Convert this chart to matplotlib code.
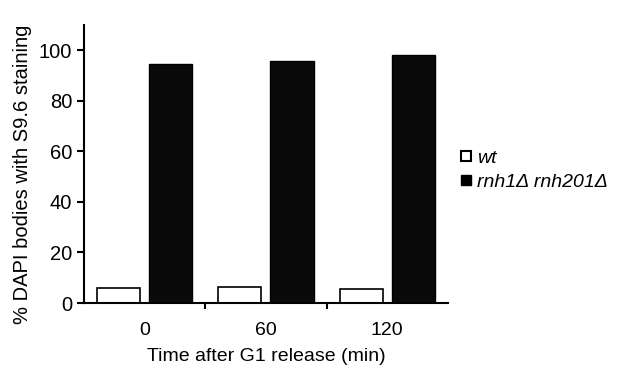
import numpy as np
import matplotlib
matplotlib.use("Agg")
import matplotlib.pyplot as plt
from matplotlib.lines import Line2D

plt.rcParams['font.family'] = ['Liberation Sans', 'DejaVu Sans']

# data
time_labels = ["0", "60", "120"]
wt_values = [5.8, 6.3, 5.5]
mutant_values = [94.5, 95.9, 98.3]
series_names = ["wt", "rnh1\u0394 rnh201\u0394"]

fig = plt.figure(figsize=(6.17, 3.87), dpi=100)
ax = fig.add_axes([0.136, 0.217, 0.590, 0.718])

x = np.arange(len(time_labels))
width = 0.355
gap = 0.075
ax.bar(x - (width + gap) / 2, wt_values, width, color='white', edgecolor='black', linewidth=1.2)
ax.bar(x + (width + gap) / 2, mutant_values, width, color='#0a0a0a', edgecolor='black', linewidth=1.0)

ax.set_xlim(-0.5, len(time_labels) - 0.5)
ax.set_ylim(0, 110)
ax.set_yticks([0, 20, 40, 60, 80, 100])
ax.set_xticks(x)
ax.set_xticklabels(time_labels)
ax.tick_params(axis='x', length=0, labelsize=14, pad=14)
ax.set_xticks(x[:-1] + 0.5, minor=True)
ax.tick_params(axis='x', which='minor', length=4, width=1.5, direction='out')
ax.tick_params(axis='y', length=5, width=1.5, labelsize=14.5, direction='out')

for side in ['top', 'right']:
    ax.spines[side].set_visible(False)
for side in ['left', 'bottom']:
    ax.spines[side].set_linewidth(1.5)

ax.set_xlabel("Time after G1 release (min)", fontsize=14, labelpad=6)
ax.set_ylabel("% DAPI bodies with S9.6 staining", fontsize=14.5)
ax.yaxis.set_label_coords(-0.143, 0.465)

handles = [
    Line2D([], [], marker='s', linestyle='none', markersize=7.5, markerfacecolor='white',
           markeredgecolor='black', markeredgewidth=1.5),
    Line2D([], [], marker='s', linestyle='none', markersize=7.5, markerfacecolor='black',
           markeredgecolor='black'),
]
leg = fig.legend(handles, series_names, loc='center left', bbox_to_anchor=(0.715, 0.56),
                 frameon=False, prop={'size': 14, 'style': 'italic'},
                 handletextpad=0.15, labelspacing=0.35, handlelength=0.8)

fig.savefig("out.png", dpi=100)
